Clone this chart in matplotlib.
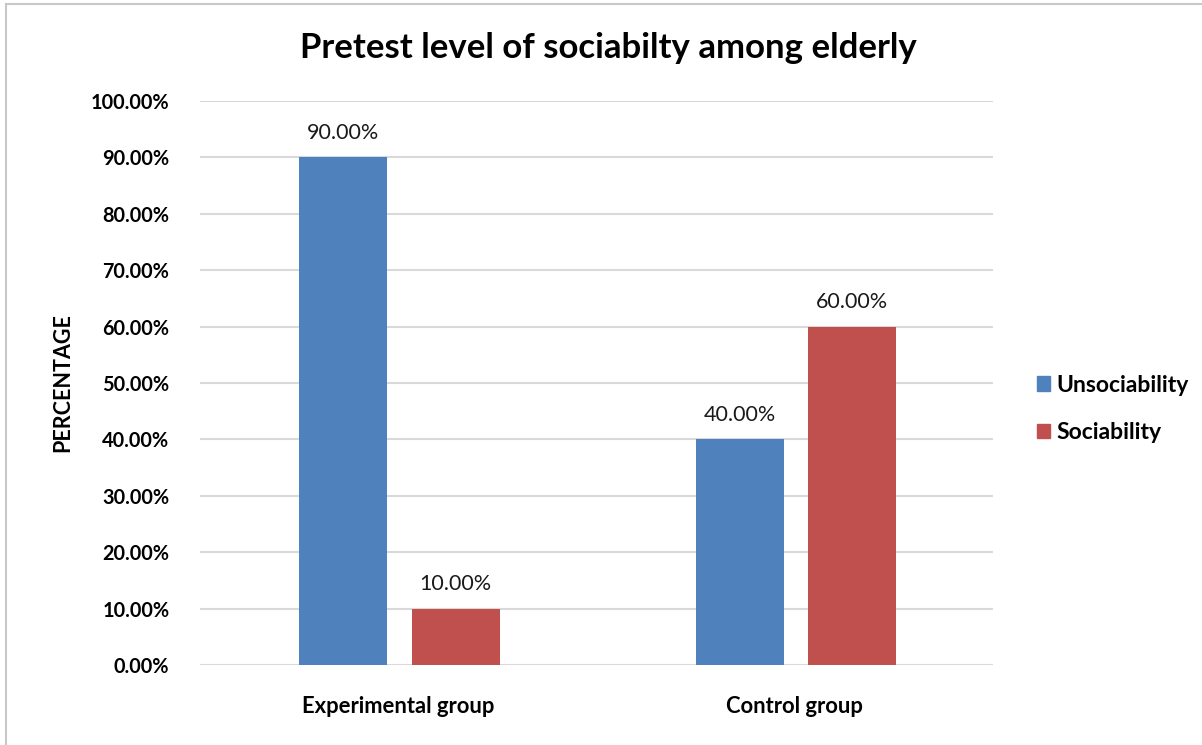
import matplotlib
matplotlib.use("Agg")
import matplotlib.pyplot as plt
import numpy as np
from matplotlib.patches import Rectangle
from matplotlib.lines import Line2D

categories = ["Experimental group", "Control group"]
series_names = ["Unsociability", "Sociability"]
unsociability = [90.0, 40.0]
sociability = [10.0, 60.0]
yticks = [0, 10, 20, 30, 40, 50, 60, 70, 80, 90, 100]
colors = ["#4F81BD", "#C0504D"]

plt.rcParams['font.family'] = ['Lato', 'DejaVu Sans']

fig = plt.figure(figsize=(12.02, 7.45), dpi=100)
W, H = 1202, 745
ax = fig.add_axes([200 / W, 1 - 665 / H, 793 / W, (665 - 101) / H])

x = np.arange(len(categories))
bw = 0.222
off = 0.142
for vals, name, c, o in [(unsociability, series_names[0], colors[0], -off),
                         (sociability, series_names[1], colors[1], off)]:
    bars = ax.bar(x + o + 0.003, vals, bw, color=c, label=name, zorder=3)
    for b, v in zip(bars, vals):
        ax.text(b.get_x() + b.get_width() / 2, v + 2.6, f"{v:.2f}%",
                ha='center', va='bottom', fontsize=15.5, color='#1a1a1a')

ax.set_xlim(-0.5, 1.5)
ax.set_ylim(0, 100)
ax.set_yticks(yticks)
ax.set_yticklabels([f"{v:.2f}%" for v in yticks], fontsize=14.3, fontweight='bold')
ax.set_xticks(x)
ax.set_xticklabels(categories, fontsize=15.8, fontweight='bold')
ax.tick_params(axis='both', length=0)
ax.tick_params(axis='y', pad=22)
ax.tick_params(axis='x', pad=22)
ax.grid(axis='y', color='#D9D9D9', linewidth=1.5, zorder=0)
for s in ax.spines.values():
    s.set_visible(False)

ax.set_ylabel("PERCENTAGE", fontsize=15.5, fontweight='bold', labelpad=13)

fig.text(608 / W, 1 - 48 / H, "Pretest level of sociabilty among elderly",
         ha='center', va='center', fontsize=25, fontweight='bold')

handles = [Rectangle((0, 0), 1, 1, color=c) for c in colors]
fig.legend(handles, series_names, loc='center left',
           bbox_to_anchor=(1016 / W, 1 - 409 / H), frameon=False,
           prop={'weight': 'bold', 'size': 16.5},
           handlelength=0.6, handleheight=0.6, handletextpad=0.25,
           labelspacing=1.15)

# outer frame
fig.add_artist(Line2D([6 / W, 6 / W], [0, 1 - 4 / H], color='#C8C8C8', lw=1.5))
fig.add_artist(Line2D([6 / W, 1], [1 - 4 / H, 1 - 4 / H], color='#C8C8C8', lw=1.5))

fig.savefig("out.png", dpi=100)
